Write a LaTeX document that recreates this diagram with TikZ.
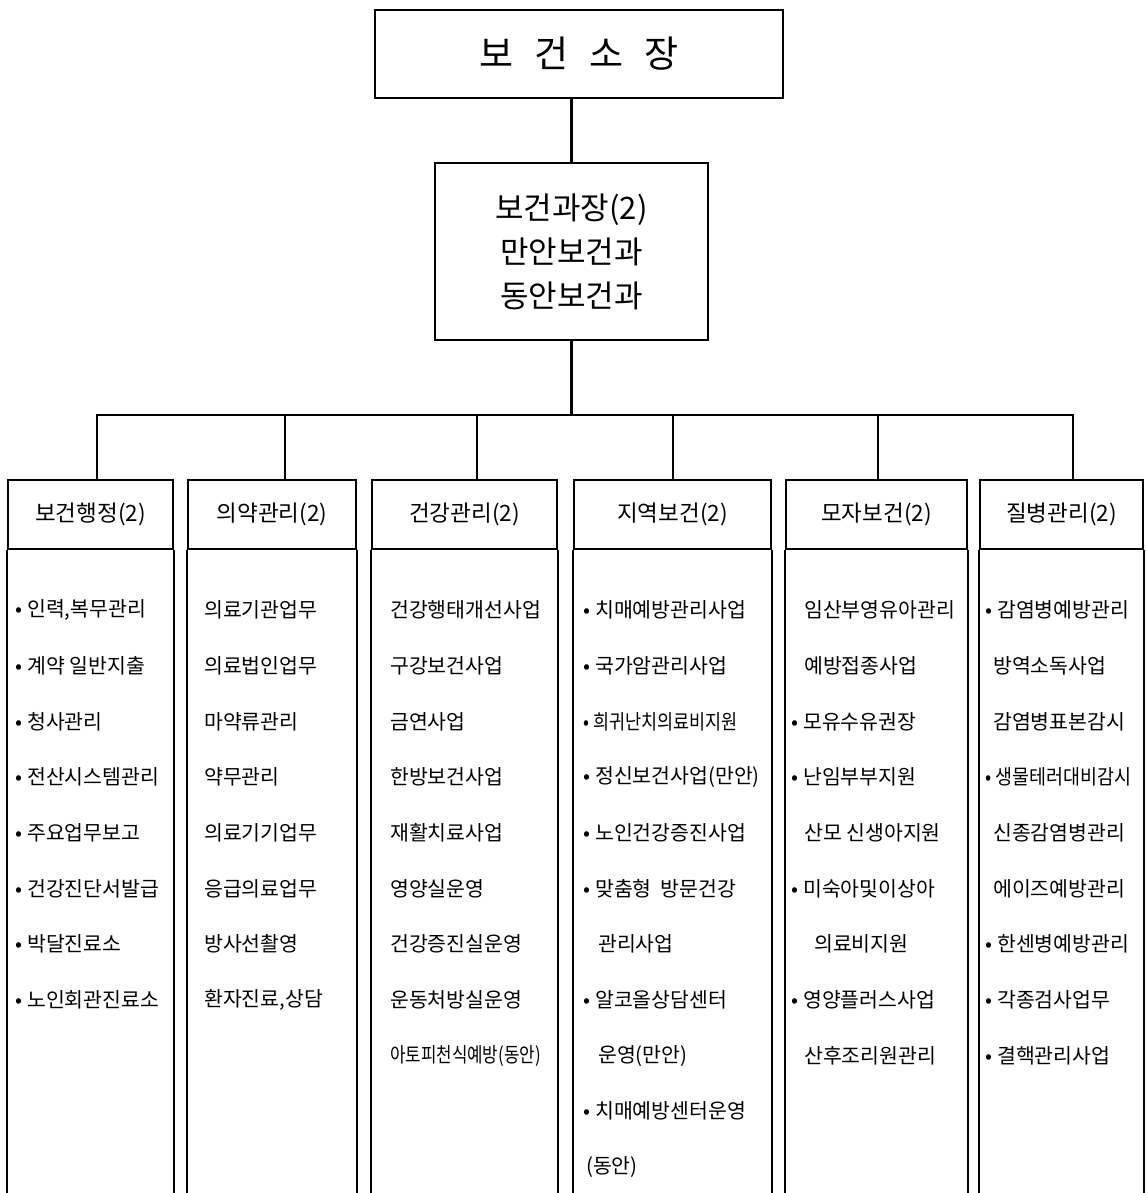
\documentclass[tikz,border=0pt]{standalone}
\usepackage{fontspec}
\setmainfont{Noto Sans CJK KR}
\usetikzlibrary{positioning}
\newcommand{\bul}{•\hspace{5pt}}

\begin{document}
\begin{tikzpicture}[x=1pt,y=-1pt,
box/.style={draw,line width=1.6pt,rectangle,inner sep=0pt},
conn/.style={line width=2.6pt,line cap=rect},
head/.style={box,minimum height=69pt,font=\fontsize{22.5}{22.5}\selectfont},
item/.style={anchor=west,inner sep=0pt,font=\fontsize{20.5}{20.5}\selectfont}]
\useasboundingbox (0,0) rectangle (1145,1193);

\node (chief) [box,minimum width=408pt,minimum height=88pt,
    font=\fontsize{37}{37}\selectfont] at (579,54)
    {보\hspace{21pt}건\hspace{21pt}소\hspace{21pt}장};
\node (sec) [box,minimum width=273pt,minimum height=177pt,align=center,
    font=\fontsize{31}{44}\selectfont] at (571.5,251.5)
    {보건과장(2)\\만안보건과\\동안보건과};

\draw[conn] (chief.south -| sec.north) -- (sec.north);
\draw[conn] (sec.south) -- ++(0,74) coordinate (bus);
\draw[conn] (97,0 |- bus) -- (1073,0 |- bus);

\foreach \n/\xl/\xr/\dx/\h in {hA/8/173/97/보건행정(2), hB/188/356/285/의약관리(2),
    hC/372/557/477/건강관리(2), hD/574/771/673/지역보건(2),
    hE/786/967/878/모자보건(2), hF/980/1143/1073/질병관리(2)} {
  \node (\n) [head,minimum width={\xr-\xl}] at ({(\xl+\xr)/2},514.5) {\h};
  \draw[box] (\n.south west) -- ++(0,660);
  \draw[box] (\n.south east) -- ++(0,660);
  \draw[conn] (\dx,0 |- bus) -- (\dx,0 |- \n.north);
}

% duties
\foreach \x/\t [count=\i] in {15/{\bul 인력,복무관리}, 15/\bul 계약 일반지출, 15/\bul 청사관리,
    15/\bul 전산시스템관리, 15/\bul 주요업무보고, 15/\bul 건강진단서발급, 15/\bul 박달진료소,
    15/\bul 노인회관진료소}
  \node (a\i) [item] at (\x,{610+(\i-1)*55.7}) {\t};

\foreach \x/\t [count=\i] in {204/의료기관업무, 204/의료법인업무, 204/마약류관리,
    204/약무관리, 204/의료기기업무, 204/응급의료업무, 204/방사선촬영,
    204/{환자진료,상담}}
  \node (b\i) [item] at (\x,{610+(\i-1)*55.7}) {\t};

\foreach \x/\t [count=\i] in {390/건강행태개선사업, 390/구강보건사업, 390/금연사업,
    390/한방보건사업, 390/재활치료사업, 390/영양실운영, 390/건강증진실운영,
    390/운동처방실운영, 390/\scalebox{.82}[1]{아토피천식예방(동안)}}
  \node (c\i) [item] at (\x,{610+(\i-1)*55.7}) {\t};

\foreach \x/\t [count=\i] in {583/\bul 치매예방관리사업, 583/\bul 국가암관리사업,
    583/\scalebox{.85}[1]{\bul 희귀난치의료비지원}, 583/\bul 정신보건사업(만안),
    583/\bul 노인건강증진사업, 583/\bul 맞춤형\ \ 방문건강, 598/관리사업,
    583/\bul 알코올상담센터, 598/운영(만안), 583/\bul 치매예방센터운영, 586/(동안)}
  \node (d\i) [item] at (\x,{610+(\i-1)*55.7}) {\t};

\foreach \x/\t [count=\i] in {804/임산부영유아관리, 804/예방접종사업, 791/\bul 모유수유권장,
    791/\bul 난임부부지원, 804/산모 신생아지원, 791/\bul 미숙아및이상아, 814/의료비지원,
    791/\bul 영양플러스사업, 804/산후조리원관리}
  \node (e\i) [item] at (\x,{610+(\i-1)*55.7}) {\t};

\foreach \x/\t [count=\i] in {985/\bul 감염병예방관리, 993/방역소독사업, 993/감염병표본감시,
    985/\scalebox{.9}[1]{\bul 생물테러대비감시}, 993/신종감염병관리, 993/에이즈예방관리,
    985/\bul 한센병예방관리, 985/\bul 각종검사업무, 985/\bul 결핵관리사업}
  \node (f\i) [item] at (\x,{610+(\i-1)*55.7}) {\t};
\end{tikzpicture}
\end{document}
